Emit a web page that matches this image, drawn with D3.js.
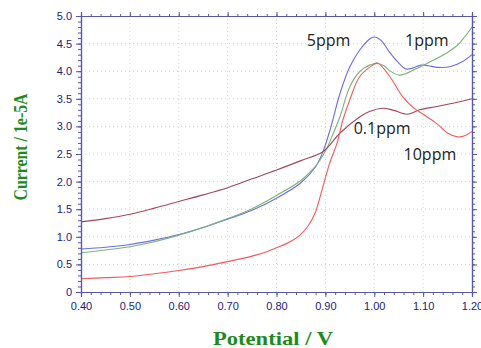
<!DOCTYPE html>
<html>
<head>
<meta charset="utf-8">
<script src="https://cdn.jsdelivr.net/npm/d3@7"></script>
<style>
  html, body { margin: 0; padding: 0; background: #fff; }
  svg { display: block; }
</style>
</head>
<body>
<svg id="chart" width="481" height="348"></svg>
<script>
// Potential sweep (V) and current (1e-5 A) for each concentration
const potential5 = [0.40, 0.45, 0.50, 0.55, 0.60, 0.65, 0.70, 0.75, 0.80, 0.85, 0.88, 0.895, 0.91, 0.93, 0.95, 0.97, 0.99, 1.00, 1.015, 1.03, 1.05, 1.065, 1.08, 1.095, 1.11, 1.13, 1.155, 1.18, 1.20];
const current5   = [0.78, 0.81, 0.86, 0.94, 1.04, 1.17, 1.32, 1.48, 1.70, 1.98, 2.27, 2.54, 2.95, 3.60, 4.08, 4.38, 4.58, 4.62, 4.55, 4.36, 4.15, 4.04, 4.06, 4.11, 4.10, 4.07, 4.08, 4.17, 4.30];

const potential1 = [0.40, 0.45, 0.50, 0.55, 0.60, 0.65, 0.70, 0.75, 0.80, 0.85, 0.88, 0.90, 0.915, 0.93, 0.95, 0.97, 0.99, 1.005, 1.02, 1.03, 1.05, 1.065, 1.08, 1.11, 1.15, 1.17, 1.185, 1.20];
const current1   = [0.71, 0.76, 0.82, 0.91, 1.03, 1.17, 1.33, 1.51, 1.75, 2.02, 2.28, 2.55, 2.85, 3.18, 3.72, 3.99, 4.11, 4.14, 4.10, 4.02, 3.93, 3.96, 4.02, 4.15, 4.34, 4.47, 4.62, 4.80];

const potential01 = [0.40, 0.45, 0.50, 0.55, 0.60, 0.65, 0.70, 0.75, 0.80, 0.85, 0.895, 0.93, 0.97, 0.99, 1.018, 1.04, 1.067, 1.093, 1.128, 1.161, 1.20];
const current01   = [1.27, 1.33, 1.41, 1.52, 1.64, 1.76, 1.89, 2.05, 2.21, 2.38, 2.54, 2.88, 3.17, 3.27, 3.33, 3.29, 3.22, 3.30, 3.36, 3.42, 3.50];

const potential10 = [0.40, 0.45, 0.50, 0.55, 0.60, 0.65, 0.70, 0.75, 0.78, 0.80, 0.83, 0.848, 0.865, 0.879, 0.895, 0.909, 0.924, 0.936, 0.95, 0.97, 0.997, 1.007, 1.032, 1.058, 1.08, 1.10, 1.128, 1.15, 1.17, 1.185, 1.20];
const current10   = [0.24, 0.26, 0.28, 0.33, 0.39, 0.46, 0.55, 0.65, 0.73, 0.80, 0.92, 1.03, 1.20, 1.43, 1.91, 2.34, 2.70, 3.12, 3.48, 3.90, 4.11, 4.15, 3.90, 3.54, 3.34, 3.22, 3.05, 2.88, 2.81, 2.83, 2.91];

const seriesNames  = ["5ppm", "1ppm", "0.1ppm", "10ppm"];
const seriesColors = ["#6c6ce6", "#78b478", "#a2475a", "#f05a5a"];

// Tick values
const xTicks = [0.40, 0.50, 0.60, 0.70, 0.80, 0.90, 1.00, 1.10, 1.20];
const yTicks = [0, 0.5, 1.0, 1.5, 2.0, 2.5, 3.0, 3.5, 4.0, 4.5, 5.0];

const svg = d3.select("#chart");
const margin = { left: 81, right: 9, top: 16, bottom: 56 };
const W = 481, H = 348;

const x = d3.scaleLinear().domain([0.40, 1.20]).range([margin.left, W - margin.right]);
const y = d3.scaleLinear().domain([0, 5.0]).range([H - margin.bottom, margin.top]);

const axisColor = "#5858a8";
const labelColor = "#22227a";

// Dotted grid at major ticks
const grid = svg.append("g");
grid.selectAll("line.gx").data(xTicks.slice(1, -1)).enter().append("line")
  .attr("x1", d => x(d)).attr("x2", d => x(d))
  .attr("y1", y(0)).attr("y2", y(5))
  .attr("stroke", "#d2d2d2").attr("stroke-width", 1).attr("stroke-dasharray", "1,3");
grid.selectAll("line.gy").data(yTicks.slice(1, -1)).enter().append("line")
  .attr("y1", d => y(d)).attr("y2", d => y(d))
  .attr("x1", x(0.40)).attr("x2", x(1.20))
  .attr("stroke", "#d2d2d2").attr("stroke-width", 1).attr("stroke-dasharray", "1,3");

// Curves
const potentials = [potential5, potential1, potential01, potential10];
const currents = [current5, current1, current01, current10];
const line = d3.line().x(d => x(d[0])).y(d => y(d[1])).curve(d3.curveCatmullRom.alpha(0.5));

seriesNames.forEach((name, i) => {
  const pts = potentials[i].map((p, j) => [p, currents[i][j]]);
  svg.append("path")
    .datum(pts)
    .attr("fill", "none")
    .attr("stroke", seriesColors[i])
    .attr("stroke-width", 1.1)
    .attr("d", line);
});

// Axes: minor ticks then major ticks with labels
const xMinor = d3.range(0, 41).map(i => 0.40 + i * 0.02);
const yMinor = d3.range(0, 51).map(i => i * 0.1);

function styleAxis(g) {
  g.select(".domain").attr("stroke", axisColor).attr("stroke-width", 1.2);
  g.selectAll(".tick line").attr("stroke", axisColor);
  g.selectAll("text").attr("fill", labelColor)
    .attr("font-family", "Liberation Sans, Arial, sans-serif").attr("font-size", 11);
}

// bottom
svg.append("g").attr("transform", `translate(0,${y(0)})`)
  .call(d3.axisBottom(x).tickValues(xMinor).tickSize(3).tickFormat(""))
  .call(styleAxis);
svg.append("g").attr("transform", `translate(0,${y(0)})`)
  .call(d3.axisBottom(x).tickValues(xTicks).tickSize(5).tickPadding(5).tickFormat(d3.format(".2f")))
  .call(styleAxis);
// top
svg.append("g").attr("transform", `translate(0,${y(5)})`)
  .call(d3.axisTop(x).tickValues(xMinor).tickSize(2).tickFormat(""))
  .call(styleAxis);
svg.append("g").attr("transform", `translate(0,${y(5)})`)
  .call(d3.axisTop(x).tickValues(xTicks).tickSize(4).tickFormat(""))
  .call(styleAxis);
// left
svg.append("g").attr("transform", `translate(${x(0.40)},0)`)
  .call(d3.axisLeft(y).tickValues(yMinor).tickSize(3).tickFormat(""))
  .call(styleAxis);
svg.append("g").attr("transform", `translate(${x(0.40)},0)`)
  .call(d3.axisLeft(y).tickValues(yTicks).tickSize(5).tickPadding(4)
    .tickFormat(d => d === 0 ? "0" : d3.format(".1f")(d)))
  .call(styleAxis);
// right
svg.append("g").attr("transform", `translate(${x(1.20)},0)`)
  .call(d3.axisRight(y).tickValues(yMinor).tickSize(3).tickFormat(""))
  .call(styleAxis);
svg.append("g").attr("transform", `translate(${x(1.20)},0)`)
  .call(d3.axisRight(y).tickValues(yTicks).tickSize(5).tickFormat(""))
  .call(styleAxis);

// Axis titles
svg.append("text")
  .attr("x", 273).attr("y", 345)
  .attr("text-anchor", "middle")
  .attr("font-family", "Liberation Serif, 'Times New Roman', serif")
  .attr("font-weight", "bold").attr("font-size", 18)
  .attr("fill", "#1e8a1e")
  .attr("textLength", 120).attr("lengthAdjust", "spacingAndGlyphs")
  .text("Potential / V");

svg.append("text")
  .attr("transform", "translate(27,147) rotate(-90)")
  .attr("text-anchor", "middle")
  .attr("font-family", "Liberation Serif, 'Times New Roman', serif")
  .attr("font-weight", "bold").attr("font-size", 18)
  .attr("fill", "#1e8a1e")
  .attr("textLength", 107).attr("lengthAdjust", "spacingAndGlyphs")
  .text("Current / 1e-5A");

// Curve labels
const labelPotential = [0.862, 1.063, 0.958, 1.06];
const labelCurrent   = [4.46, 4.46, 2.86, 2.4];
seriesNames.forEach((name, i) => {
  svg.append("text")
    .attr("x", x(labelPotential[i])).attr("y", y(labelCurrent[i]))
    .attr("font-family", "'Open Sans', 'Noto Sans', sans-serif")
    .attr("font-size", 16)
    .attr("fill", "#222")
    .text(name);
});
</script>
</body>
</html>
